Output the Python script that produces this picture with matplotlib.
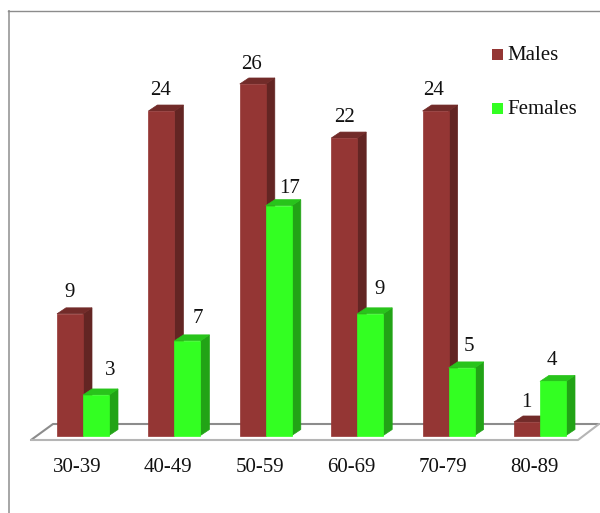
import matplotlib
matplotlib.use("Agg")
import matplotlib.pyplot as plt
from matplotlib.patches import Polygon, Rectangle

plt.rcParams["font.family"] = ["Liberation Serif", "DejaVu Serif"]

age_groups = ["30-39", "40-49", "50-59", "60-69", "70-79", "80-89"]
males = [9, 24, 26, 22, 24, 1]
females = [3, 7, 17, 9, 5, 4]

# label offsets from the front face of each bar, in pixels
male_label_dx = [0, -1, -1, 0, -2, -1]
male_label_dy = [21.6, 20.6, 19.6, 20.6, 20.6, 19.6]
female_label_dx = [14, 10, 11, 9, 7, -1]
female_label_dy = [24, 22, 17, 24, 21, 21]

MALE_COLORS = ("#943634", "#722B29", "#632523")     # front, top, side
FEMALE_COLORS = ("#33FF22", "#28C41B", "#22A316")

W, H = 600, 513
BASE_Y = 435.5      # pixel row of value 0
PX_PER_UNIT = 13.52
GROUP_STEP = 91.4
FIRST_X = 57.0
BAR_PX = 26.0
DEPTH_X = 9.0
DEPTH_Y = 6.0
PT = 0.72           # points per pixel at dpi 100

fig = plt.figure(figsize=(W / 100, H / 100), dpi=100, facecolor="white")

# pixel-space layer for frame, floor and legend
frame = fig.add_axes([0, 0, 1, 1], zorder=1)
frame.set_xlim(0, W)
frame.set_ylim(H, 0)
frame.axis("off")

# value-space layer for the bars
ax = fig.add_axes([0, 0, 1, 1], zorder=2)
ax.patch.set_alpha(0)
ax.set_xlim(-FIRST_X / GROUP_STEP, (W - FIRST_X) / GROUP_STEP)
ax.set_ylim((BASE_Y - H) / PX_PER_UNIT, BASE_Y / PX_PER_UNIT)
ax.axis("off")

bar_w = BAR_PX / GROUP_STEP
dx = DEPTH_X / GROUP_STEP
dy = DEPTH_Y / PX_PER_UNIT

# chart border, top and left only
frame.plot([8.5, 8.5], [H, 10.5], color="#A6A6A6", lw=1.4)
frame.plot([8, W], [10.5, 10.5], color="#8C8C8C", lw=1.0)

# floor of the 3D plot
frame.add_patch(Polygon([(31, 440), (53, 424), (599, 424), (578, 440)],
                        closed=True, facecolor="white", edgecolor="none"))
frame.plot([31, 53, 599], [440, 424, 424], color="#8C8C8C", lw=1.5, solid_capstyle="round")
frame.plot([31, 578, 599], [440, 440, 424], color="#B5B5B5", lw=1.5, solid_capstyle="round")


def draw_bar(x, value, colors):
    front, top, side = colors
    # thin same-colour edges close the seams between faces
    ax.add_patch(Polygon([(x + bar_w, 0), (x + bar_w + dx, dy), (x + bar_w + dx, value + dy),
                          (x + bar_w, value)], closed=True, facecolor=side, edgecolor=side, lw=0.5))
    ax.add_patch(Polygon([(x, value), (x + dx, value + dy), (x + bar_w + dx, value + dy),
                          (x + bar_w, value)], closed=True, facecolor=top, edgecolor=top, lw=0.5))
    ax.add_patch(Rectangle((x, 0), bar_w, value, facecolor=front, edgecolor=front, lw=0.5))


for i, (m, f) in enumerate(zip(males, females)):
    draw_bar(i, m, MALE_COLORS)
    draw_bar(i + bar_w, f, FEMALE_COLORS)

    ax.annotate(str(m), (i + bar_w / 2, m), xytext=(male_label_dx[i] * PT, male_label_dy[i] * PT),
                textcoords="offset points", ha="center", va="center", fontsize=15, color="#111111")
    ax.annotate(str(f), (i + bar_w * 1.5, f), xytext=(female_label_dx[i] * PT, female_label_dy[i] * PT),
                textcoords="offset points", ha="center", va="center", fontsize=15, color="#111111")

    frame.text(77 + GROUP_STEP * i, 468, age_groups[i], ha="center", va="center",
               fontsize=15, color="#111111")

# legend
for y, color, name in [(54.5, MALE_COLORS[0], "Males"), (108.5, FEMALE_COLORS[0], "Females")]:
    frame.add_patch(Rectangle((492, y - 5.5), 11, 11, facecolor=color, edgecolor="none"))
    frame.text(507, y + 1.5, name, ha="left", va="center", fontsize=15, color="#111111")

fig.savefig("out.png", dpi=100)
